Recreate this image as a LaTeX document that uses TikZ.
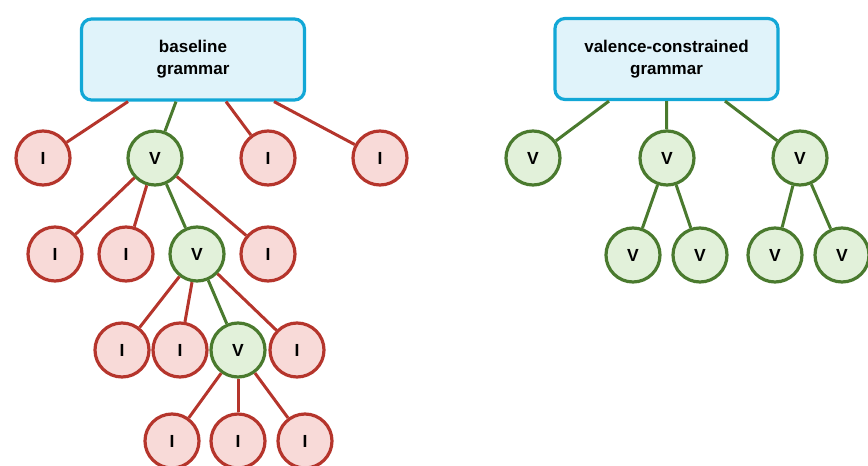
\documentclass[tikz,border=0pt]{standalone}
\usepackage{fontspec}
\setmainfont{Liberation Sans}
\definecolor{boxfill}{HTML}{E0F3FA}
\definecolor{boxline}{HTML}{12A7D6}
\definecolor{ifill}{HTML}{F8DAD8}
\definecolor{iline}{HTML}{B5352C}
\definecolor{vfill}{HTML}{E2F1DA}
\definecolor{vline}{HTML}{4A7A2E}
\tikzset{
  gbox/.style={draw=boxline, fill=boxfill, line width=3.2pt, rounded corners=10pt,
    minimum width=223pt, minimum height=81pt, align=center,
    font=\fontsize{17}{22}\selectfont\bfseries, inner sep=0pt},
  inode/.style={circle, draw=iline, fill=ifill, line width=3.2pt, minimum size=54pt,
    inner sep=0pt, font=\fontsize{17.5}{18}\selectfont\bfseries},
  vnode/.style={circle, draw=vline, fill=vfill, line width=3.2pt, minimum size=54pt,
    inner sep=0pt, font=\fontsize{17.5}{18}\selectfont\bfseries},
  redge/.style={draw=iline, line width=3pt},
  gedge/.style={draw=vline, line width=3pt},
}
\begin{document}
\begin{tikzpicture}[x=1pt,y=-1pt]
\useasboundingbox (0,0) rectangle (868,466);
% boxes
\node[gbox] (base) at (193,59.5) {baseline\\grammar};
\node[gbox] (val) at (666.5,59) {valence-constrained\\grammar};
% left tree
\node[inode] (i1) at (43,158) {I};
\node[vnode] (v1) at (155,158) {V};
\node[inode] (i2) at (268,158) {I};
\node[inode] (i3) at (380,158) {I};
\node[inode] (i4) at (55,254) {I};
\node[inode] (i5) at (126,254) {I};
\node[vnode] (v2) at (197,254) {V};
\node[inode] (i6) at (268,254) {I};
\node[inode] (i7) at (122,350) {I};
\node[inode] (i8) at (180,350) {I};
\node[vnode] (v3) at (238,350) {V};
\node[inode] (i9) at (297,350) {I};
\node[inode] (i10) at (172,441) {I};
\node[inode] (i11) at (238,441) {I};
\node[inode] (i12) at (305,441) {I};
% right tree
\node[vnode] (r1) at (533,158) {V};
\node[vnode] (r2) at (667,158) {V};
\node[vnode] (r3) at (800,158) {V};
\node[vnode] (r4) at (633,255) {V};
\node[vnode] (r5) at (700,255) {V};
\node[vnode] (r6) at (775,255) {V};
\node[vnode] (r7) at (842,255) {V};
% left edges
\draw[redge] ([xshift=-65pt]base.south) -- (i1);
\draw[gedge] ([xshift=-17pt]base.south) -- (v1);
\draw[redge] ([xshift=33pt]base.south) -- (i2);
\draw[redge] ([xshift=81pt]base.south) -- (i3);
\draw[redge] (v1) -- (i4);
\draw[redge] (v1) -- (i5);
\draw[gedge] (v1) -- (v2);
\draw[redge] (v1) -- (i6);
\draw[redge] (v2) -- (i7);
\draw[redge] (v2) -- (i8);
\draw[gedge] (v2) -- (v3);
\draw[redge] (v2) -- (i9);
\draw[redge] (v3) -- (i10);
\draw[redge] (v3) -- (i11);
\draw[redge] (v3) -- (i12);
% right edges
\draw[gedge] ([xshift=-57.5pt]val.south) -- (r1);
\draw[gedge] (val.south) -- (r2);
\draw[gedge] ([xshift=58.5pt]val.south) -- (r3);
\draw[gedge] (r2) -- (r4);
\draw[gedge] (r2) -- (r5);
\draw[gedge] (r3) -- (r6);
\draw[gedge] (r3) -- (r7);
\end{tikzpicture}
\end{document}
